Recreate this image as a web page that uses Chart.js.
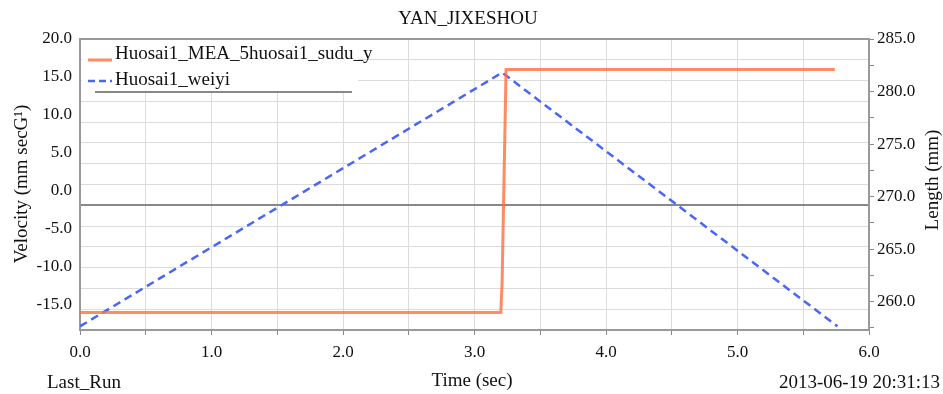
<!DOCTYPE html>
<html>
<head>
<meta charset="utf-8">
<title>YAN_JIXESHOU</title>
<script src="https://cdn.jsdelivr.net/npm/chart.js"></script>
<style>
    html, body { margin: 0; padding: 0; background: #fff; }
    #c { display: block; }
</style>
</head>
<body>
<canvas id="c" width="943" height="394"></canvas>
<script>
// datos
const velTime = [0, 3.20, 3.21, 3.24, 5.74];
const velValues = [-16.0, -16.0, -12.0, 16.0, 16.0];
const lenTime = [0, 3.21, 5.76];
const lenValues = [257.65, 281.8, 257.65];

const xTicks = [0, 0.5, 1, 1.5, 2, 2.5, 3, 3.5, 4, 4.5, 5, 5.5, 6];
const velTicks = [20, 15, 10, 5, 0, -5, -10, -15];
const lenTicks = [285, 282.5, 280, 277.5, 275, 272.5, 270, 267.5, 265, 262.5, 260, 257.5];
const gridTicks = [0, 1, 2, 3, 4, 5, 6, 7, 8, 9, 10, 11, 12, 13, 14];

const serie1 = "Huosai1_MEA_5huosai1_sudu_y";
const serie2 = "Huosai1_weiyi";
const titulo = "YAN_JIXESHOU";

const fuente = "'Liberation Serif', 'Times New Roman', serif";
const naranja = "rgba(255, 110, 60, 0.8)";
const azul = "#4a66f5";

const puntos = (xs, ys) => xs.map((x, i) => ({ x: x, y: ys[i] }));

const textos = {
    id: "textos",
    afterDraw(chart) {
        const ctx = chart.ctx;
        const a = chart.chartArea;
        ctx.save();

        // borde superior
        ctx.strokeStyle = "#999";
        ctx.lineWidth = 2;
        ctx.beginPath();
        ctx.moveTo(a.left, a.top);
        ctx.lineTo(a.right, a.top);
        ctx.stroke();

        ctx.fillStyle = "#111";
        ctx.font = "19px " + fuente;
        ctx.textBaseline = "middle";
        ctx.textAlign = "center";
        ctx.fillText(titulo, 468, 19);
        ctx.fillText("Time (sec)", 472, 381);
        ctx.textAlign = "left";
        ctx.fillText("Last_Run", 47, 383);
        ctx.textAlign = "right";
        ctx.fillText("2013-06-19 20:31:13", 940, 383);

        // titulos de ejes
        ctx.textAlign = "center";
        ctx.save();
        ctx.translate(22, 184);
        ctx.rotate(-Math.PI / 2);
        ctx.fillText("Velocity (mm secG\u00b9)", 0, 0);
        ctx.restore();
        ctx.save();
        ctx.translate(933, 180);
        ctx.rotate(-Math.PI / 2);
        ctx.fillText("Length (mm)", 0, 0);
        ctx.restore();

        // leyenda
        ctx.fillStyle = "#fff";
        ctx.fillRect(a.left + 2, a.top + 1, 276, 53);
        ctx.strokeStyle = "#888";
        ctx.lineWidth = 2;
        ctx.beginPath();
        ctx.moveTo(95, 92);
        ctx.lineTo(352, 92);
        ctx.stroke();

        ctx.lineWidth = 3;
        ctx.strokeStyle = naranja;
        ctx.beginPath();
        ctx.moveTo(88, 60);
        ctx.lineTo(112, 60);
        ctx.stroke();

        ctx.lineWidth = 2.5;
        ctx.strokeStyle = azul;
        ctx.setLineDash([7, 4]);
        ctx.beginPath();
        ctx.moveTo(88, 81);
        ctx.lineTo(112, 81);
        ctx.stroke();
        ctx.setLineDash([]);

        ctx.fillStyle = "#111";
        ctx.textAlign = "left";
        ctx.textBaseline = "alphabetic";
        ctx.fillText(serie1, 115, 59);
        ctx.fillText(serie2, 115, 85);
        ctx.restore();
    }
};

new Chart(document.getElementById("c"), {
    type: "line",
    data: {
        datasets: [
            {
                label: serie1,
                data: puntos(velTime, velValues),
                yAxisID: "y",
                borderColor: naranja,
                borderWidth: 3,
                pointRadius: 0,
                tension: 0,
                fill: false
            },
            {
                label: serie2,
                data: puntos(lenTime, lenValues),
                yAxisID: "y2",
                borderColor: azul,
                borderWidth: 2.5,
                borderDash: [8, 5],
                pointRadius: 0,
                tension: 0,
                fill: false
            }
        ]
    },
    options: {
        responsive: false,
        animation: false,
        layout: { padding: { top: 39, left: 0, right: 0, bottom: 0 } },
        plugins: { legend: { display: false }, title: { display: false }, tooltip: { enabled: false } },
        scales: {
            x: {
                type: "linear",
                position: "bottom",
                min: 0,
                max: 6,
                afterBuildTicks: s => { s.ticks = xTicks.map(v => ({ value: v })); },
                afterFit: s => { s.height = 64; },
                ticks: {
                    autoSkip: false,
                    maxRotation: 0,
                    padding: 7,
                    color: "#111",
                    font: { family: fuente, size: 17 },
                    callback: v => Number.isInteger(v) ? v.toFixed(1) : ""
                },
                grid: { color: "#dcdcdc", tickColor: "#888", tickLength: 5 },
                border: { color: "#999", width: 2 }
            },
            y: {
                type: "linear",
                position: "left",
                min: -18.3,
                max: 20,
                afterBuildTicks: s => { s.ticks = velTicks.map(v => ({ value: v })); },
                afterFit: s => { s.width = 80; },
                ticks: {
                    padding: 8,
                    color: "#111",
                    font: { family: fuente, size: 17 },
                    callback: v => v.toFixed(1)
                },
                grid: { drawOnChartArea: false, drawTicks: false },
                border: { color: "#999", width: 2 }
            },
            yg: {
                type: "linear",
                position: "left",
                min: 0,
                max: 14,
                afterBuildTicks: s => { s.ticks = gridTicks.map(v => ({ value: v })); },
                afterFit: s => { s.width = 0; },
                ticks: { display: false },
                grid: {
                    color: c => c.tick && c.tick.value === 6 ? "#888" : "#dcdcdc",
                    lineWidth: c => c.tick && c.tick.value === 6 ? 2 : 1,
                    tickColor: "#888",
                    tickLength: 5
                },
                border: { display: false }
            },
            y2: {
                type: "linear",
                position: "right",
                min: 257.3,
                max: 285,
                afterBuildTicks: s => { s.ticks = lenTicks.map(v => ({ value: v })); },
                afterFit: s => { s.width = 74; },
                ticks: {
                    autoSkip: false,
                    padding: 3,
                    color: "#111",
                    font: { family: fuente, size: 17 },
                    callback: v => v % 5 === 0 ? v.toFixed(1) : ""
                },
                grid: { drawOnChartArea: false, tickColor: "#888", tickLength: 5 },
                border: { color: "#999", width: 2 }
            }
        }
    },
    plugins: [textos]
});
</script>
</body>
</html>
